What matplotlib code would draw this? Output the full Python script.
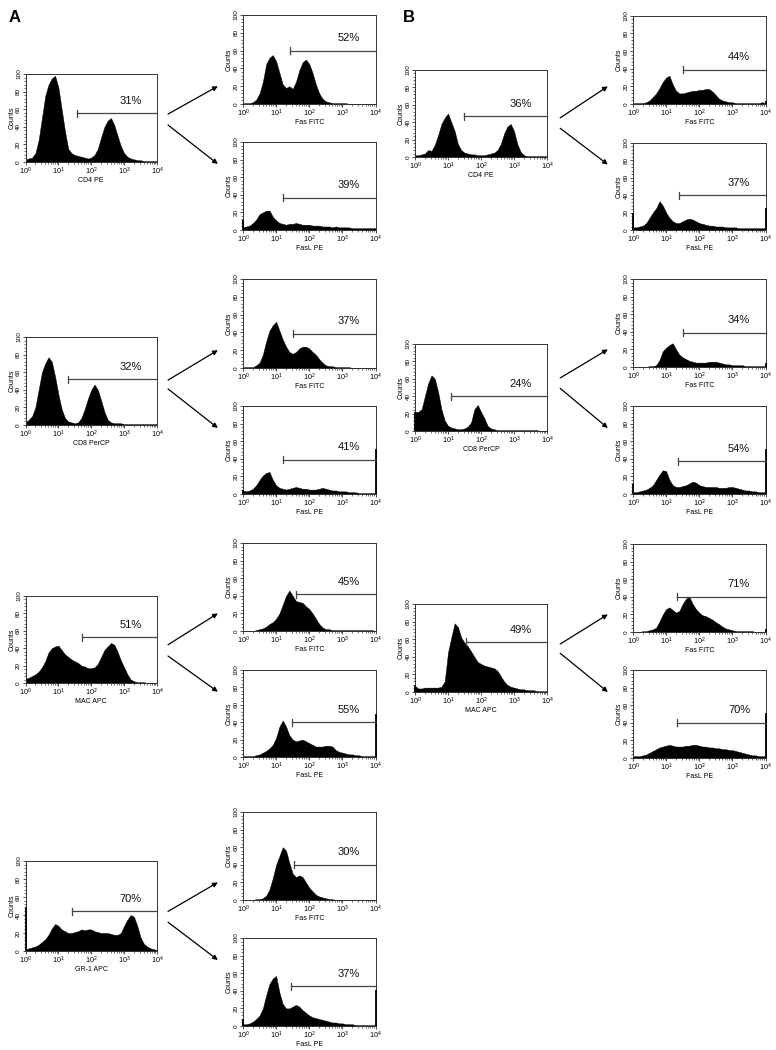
import numpy as np
import matplotlib
matplotlib.use('Agg')
import matplotlib.pyplot as plt
from matplotlib.ticker import FixedLocator, MultipleLocator, NullFormatter

plt.rcParams['font.family'] = ['Liberation Sans', 'DejaVu Sans']
plt.rcParams['mathtext.fontset'] = 'custom'
plt.rcParams['mathtext.rm'] = 'Liberation Sans'
plt.rcParams['mathtext.it'] = 'Liberation Sans:italic'

# channel positions (decades of fluorescence, 10^0 .. 10^4)
LOG_GRID = np.round(np.linspace(0, 4, 41), 2)

# ---------------- histogram counts ----------------
A_CD4 = [3, 4, 5, 10, 25, 50, 75, 88, 95, 98, 85, 60, 35, 15, 10, 8, 7, 6, 5, 4,
         5, 8, 15, 28, 40, 47, 50, 42, 30, 18, 10, 6, 4, 3, 2, 2, 1, 1, 1, 1, 1]
A_CD4_FAS = [1, 1, 1, 2, 5, 12, 25, 45, 52, 55, 48, 35, 22, 18, 20, 17, 25, 38, 47, 50,
             45, 35, 22, 12, 6, 3, 2, 1, 1, 1, 1, 1, 0, 0, 0, 0, 0, 0, 0, 0, 0]
A_CD4_FASL = [3, 4, 5, 8, 12, 18, 20, 22, 22, 15, 11, 8, 7, 6, 7, 7, 8, 7, 6, 6,
              6, 5, 5, 5, 4, 4, 4, 3, 4, 3, 3, 3, 3, 2, 2, 2, 2, 2, 2, 2, 2]
B_CD4 = [2, 2, 3, 4, 8, 7, 14, 25, 38, 45, 50, 40, 30, 15, 8, 5, 4, 3, 3, 2,
         2, 2, 3, 4, 5, 8, 15, 27, 35, 38, 30, 15, 6, 2, 1, 1, 1, 1, 1, 1, 1]
B_CD4_FAS = [1, 1, 1, 1, 2, 4, 8, 12, 18, 25, 30, 32, 22, 15, 12, 12, 13, 14, 15, 15,
             16, 16, 17, 17, 14, 10, 6, 4, 3, 2, 2, 1, 1, 1, 1, 1, 1, 1, 1, 2, 1]
B_CD4_FASL = [3, 3, 4, 5, 8, 14, 20, 25, 33, 28, 20, 14, 10, 8, 8, 10, 12, 13, 12, 10,
              8, 7, 6, 5, 5, 4, 4, 4, 3, 3, 3, 3, 2, 2, 2, 2, 2, 2, 2, 2, 2]
A_CD8 = [3, 6, 10, 20, 40, 60, 70, 77, 72, 55, 35, 18, 8, 4, 3, 2, 3, 8, 18, 30,
         40, 46, 40, 28, 15, 6, 3, 2, 2, 2, 1, 1, 1, 1, 1, 1, 1, 1, 1, 1, 1]
A_CD8_FAS = [1, 1, 1, 1, 3, 6, 15, 30, 42, 48, 52, 42, 32, 24, 18, 16, 18, 22, 24, 24,
             22, 18, 15, 10, 6, 3, 2, 2, 1, 1, 1, 1, 1, 0, 0, 0, 0, 0, 0, 0, 0]
A_CD8_FASL = [4, 3, 4, 6, 10, 16, 21, 24, 25, 16, 10, 7, 6, 5, 6, 7, 8, 7, 6, 6,
              5, 5, 5, 6, 7, 6, 5, 4, 4, 3, 3, 3, 2, 2, 2, 1, 1, 1, 1, 1, 1]
B_CD8 = [22, 22, 25, 40, 55, 64, 60, 45, 25, 12, 6, 4, 3, 2, 2, 3, 5, 10, 25, 30,
         22, 15, 6, 3, 2, 1, 1, 1, 1, 1, 1, 1, 1, 1, 1, 1, 1, 1, 0, 0, 0]
B_CD8_FAS = [0, 0, 0, 0, 0, 1, 1, 2, 8, 18, 22, 25, 27, 20, 14, 11, 9, 7, 6, 5,
             5, 5, 5, 6, 6, 6, 5, 4, 3, 3, 2, 2, 2, 2, 1, 1, 1, 1, 1, 1, 1]
B_CD8_FASL = [2, 2, 3, 4, 5, 7, 10, 16, 22, 27, 26, 16, 10, 8, 8, 9, 10, 12, 14, 13,
              10, 9, 8, 8, 8, 8, 7, 7, 7, 8, 8, 7, 6, 5, 4, 4, 3, 3, 2, 2, 2]
A_MAC = [5, 6, 8, 10, 13, 18, 25, 35, 40, 42, 43, 38, 33, 30, 27, 25, 23, 20, 19, 17,
         17, 18, 22, 30, 38, 42, 46, 44, 36, 26, 18, 10, 4, 2, 1, 1, 1, 0, 0, 0, 0]
A_MAC_FAS = [0, 0, 0, 0, 1, 2, 3, 5, 8, 10, 14, 20, 30, 40, 46, 40, 34, 33, 32, 28,
             25, 20, 14, 8, 4, 2, 2, 1, 1, 1, 1, 1, 1, 1, 1, 1, 1, 1, 1, 1, 0]
A_MAC_FASL = [1, 1, 1, 1, 2, 3, 5, 7, 10, 14, 22, 35, 42, 35, 25, 20, 18, 19, 20, 18,
              16, 14, 12, 12, 12, 13, 13, 12, 8, 6, 5, 4, 3, 3, 2, 2, 1, 1, 1, 1, 1]
B_MAC = [7, 4, 4, 5, 5, 5, 5, 5, 6, 12, 45, 62, 78, 74, 62, 56, 52, 46, 40, 34,
         32, 30, 29, 28, 27, 24, 18, 12, 8, 6, 5, 4, 3, 3, 2, 2, 2, 1, 1, 1, 1]
B_MAC_FAS = [0, 0, 0, 1, 1, 2, 3, 5, 12, 20, 26, 28, 25, 22, 24, 32, 38, 40, 32, 26,
             22, 19, 18, 16, 14, 11, 9, 6, 4, 3, 2, 1, 1, 1, 1, 1, 1, 0, 0, 0, 0]
B_MAC_FASL = [2, 2, 2, 3, 4, 6, 8, 10, 12, 13, 14, 15, 14, 13, 13, 13, 14, 14, 15, 15,
              14, 13, 13, 12, 12, 11, 11, 10, 10, 9, 9, 8, 7, 6, 5, 4, 3, 3, 2, 2, 2]
A_GR1 = [2, 3, 4, 5, 7, 10, 13, 18, 25, 30, 28, 24, 22, 20, 20, 21, 22, 24, 23, 24,
         24, 22, 21, 20, 20, 20, 19, 18, 18, 20, 28, 35, 40, 38, 28, 15, 8, 5, 3, 2, 1]
A_GR1_FAS = [0, 0, 0, 0, 1, 1, 2, 5, 12, 25, 40, 50, 60, 56, 42, 30, 26, 28, 26, 20,
             14, 10, 6, 4, 3, 2, 1, 1, 0, 0, 0, 0, 0, 0, 0, 0, 0, 0, 0, 0, 0]
A_GR1_FASL = [2, 2, 3, 5, 8, 12, 20, 35, 48, 54, 57, 38, 25, 20, 20, 22, 24, 22, 18, 15,
              12, 10, 9, 8, 7, 6, 5, 4, 4, 3, 3, 2, 2, 2, 1, 1, 1, 1, 1, 1, 1]

# first / last channel pile-up counts [at 10^0, at 10^4]
A_CD4_EDGES = [0, 0];      A_CD4_FAS_EDGES = [0, 0];   A_CD4_FASL_EDGES = [11, 0]
B_CD4_EDGES = [0, 0];      B_CD4_FAS_EDGES = [0, 3];   B_CD4_FASL_EDGES = [19, 25]
A_CD8_EDGES = [0, 0];      A_CD8_FAS_EDGES = [0, 0];   A_CD8_FASL_EDGES = [5, 51]
B_CD8_EDGES = [22, 0];     B_CD8_FAS_EDGES = [0, 5];   B_CD8_FASL_EDGES = [11, 51]
A_MAC_EDGES = [0, 0];      A_MAC_FAS_EDGES = [0, 0];   A_MAC_FASL_EDGES = [0, 50]
B_MAC_EDGES = [8, 0];      B_MAC_FAS_EDGES = [0, 3];   B_MAC_FASL_EDGES = [0, 51]
A_GR1_EDGES = [49, 0];     A_GR1_FAS_EDGES = [0, 0];   A_GR1_FASL_EDGES = [8, 41]

# gates: [start (decades), level (counts)] and percent labels
A_CD4_GATE = [1.56, 55.5];  A_CD4_FAS_GATE = [1.42, 60];   A_CD4_FASL_GATE = [1.22, 36.6]
B_CD4_GATE = [1.47, 46.6];  B_CD4_FAS_GATE = [1.51, 39];   B_CD4_FASL_GATE = [1.38, 40]
A_CD8_GATE = [1.30, 52];    A_CD8_FAS_GATE = [1.50, 38.6]; A_CD8_FASL_GATE = [1.22, 39]
B_CD8_GATE = [1.09, 40];    B_CD8_FAS_GATE = [1.52, 39];   B_CD8_FASL_GATE = [1.35, 37]
A_MAC_GATE = [1.71, 52.5];  A_MAC_FAS_GATE = [1.60, 41.5]; A_MAC_FASL_GATE = [1.49, 40]
B_MAC_GATE = [1.56, 57];    B_MAC_FAS_GATE = [1.32, 40];   B_MAC_FASL_GATE = [1.32, 40]
A_GR1_GATE = [1.40, 44];    A_GR1_FAS_GATE = [1.55, 40];   A_GR1_FASL_GATE = [1.45, 45]

A_CD4_PCT, A_CD4_FAS_PCT, A_CD4_FASL_PCT = '31%', '52%', '39%'
B_CD4_PCT, B_CD4_FAS_PCT, B_CD4_FASL_PCT = '36%', '44%', '37%'
A_CD8_PCT, A_CD8_FAS_PCT, A_CD8_FASL_PCT = '32%', '37%', '41%'
B_CD8_PCT, B_CD8_FAS_PCT, B_CD8_FASL_PCT = '24%', '34%', '54%'
A_MAC_PCT, A_MAC_FAS_PCT, A_MAC_FASL_PCT = '51%', '45%', '55%'
B_MAC_PCT, B_MAC_FAS_PCT, B_MAC_FASL_PCT = '49%', '71%', '70%'
A_GR1_PCT, A_GR1_FAS_PCT, A_GR1_FASL_PCT = '70%', '30%', '37%'

X_TICK_LABELS = [r'$10^{0}$', r'$10^{1}$', r'$10^{2}$', r'$10^{3}$', r'$10^{4}$']
Y_TICKS = [0, 20, 40, 60, 80, 100]

# ---------------- drawing ----------------
W, H = 776, 1050
fig = plt.figure(figsize=(W / 100, H / 100), dpi=100)
fig.patch.set_facecolor('white')


def px_axes(left, top, right, bottom):
    return fig.add_axes([left / W, 1 - bottom / H, (right - left) / W, (bottom - top) / H])


def histo(rect, counts, edges, gate, pct, xlabel):
    ax = px_axes(*rect)
    x = 10 ** LOG_GRID
    ax.fill_between(x, counts, 0, color='black', lw=0.3, edgecolor='black')
    ax.set_xscale('log')
    ax.set_xlim(1, 1e4)
    ax.set_ylim(0, 100)
    if edges[0] > 0:
        ax.vlines(1.0, 0, edges[0], color='black', lw=1.3, clip_on=False, zorder=3)
    if edges[1] > 0:
        ax.vlines(1e4, 0, edges[1], color='black', lw=1.3, clip_on=False, zorder=3)
    # gate marker
    g0 = 10 ** gate[0]
    ax.plot([g0, 1e4], [gate[1], gate[1]], color='#444444', lw=0.9, zorder=4, clip_on=False)
    ax.plot([g0, g0], [gate[1] - 4, gate[1] + 4], color='#444444', lw=0.9, zorder=4)
    ax.text(10 ** 3.2, gate[1] + 14, pct, fontsize=8, ha='center', va='center', color='#111111')
    # axes styling
    for s in ax.spines.values():
        s.set_color('#333333')
        s.set_linewidth(0.7)
    ax.xaxis.set_major_locator(FixedLocator([1, 10, 100, 1000, 10000]))
    ax.set_xticklabels(X_TICK_LABELS)
    ax.xaxis.set_minor_locator(FixedLocator(
        [m * 10 ** d for d in range(4) for m in range(2, 10)]))
    ax.xaxis.set_minor_formatter(NullFormatter())
    ax.yaxis.set_major_locator(FixedLocator(Y_TICKS))
    ax.set_yticklabels([str(v) for v in Y_TICKS], rotation=90, va='center')
    ax.yaxis.set_minor_locator(MultipleLocator(4))
    ax.tick_params(axis='both', which='major', length=2.2, width=0.6, labelsize=4.6,
                   pad=1, color='#333333')
    ax.tick_params(axis='both', which='minor', length=1.2, width=0.5, color='#333333')
    ax.tick_params(axis='x', labelsize=5.2, pad=0.5)
    ax.set_xlabel(xlabel, fontsize=5, labelpad=0)
    ax.set_ylabel('Counts', fontsize=5, labelpad=0.5)
    return ax


def arrows(prim, upper, lower, start_x, start_up, start_low):
    for sec, sy, ey in ((upper, start_up, 0.2), (lower, start_low, 0.75)):
        sec.annotate('', xy=(-0.19, ey), xycoords=sec.transAxes,
                     xytext=(start_x, sy), textcoords=prim.transAxes,
                     arrowprops=dict(arrowstyle='-|>', lw=0.9, color='black',
                                     mutation_scale=7, shrinkA=0, shrinkB=0),
                     annotation_clip=False)


A_PL, A_PR, A_SL, A_SR = 25.5, 157, 243, 375.5
B_PL, B_PR, B_SL, B_SR = 415, 547, 633, 765.5

# column A
p = histo((A_PL, 74, A_PR, 162), A_CD4, A_CD4_EDGES, A_CD4_GATE, A_CD4_PCT, 'CD4 PE')
u = histo((A_SL, 15, A_SR, 104), A_CD4_FAS, A_CD4_FAS_EDGES, A_CD4_FAS_GATE, A_CD4_FAS_PCT, 'Fas FITC')
l = histo((A_SL, 142, A_SR, 230), A_CD4_FASL, A_CD4_FASL_EDGES, A_CD4_FASL_GATE, A_CD4_FASL_PCT, 'FasL PE')
arrows(p, u, l, 1.084, 0.545, 0.42)

p = histo((A_PL, 337, A_PR, 425), A_CD8, A_CD8_EDGES, A_CD8_GATE, A_CD8_PCT, 'CD8 PerCP')
u = histo((A_SL, 279, A_SR, 368), A_CD8_FAS, A_CD8_FAS_EDGES, A_CD8_FAS_GATE, A_CD8_FAS_PCT, 'Fas FITC')
l = histo((A_SL, 406, A_SR, 494), A_CD8_FASL, A_CD8_FASL_EDGES, A_CD8_FASL_GATE, A_CD8_FASL_PCT, 'FasL PE')
arrows(p, u, l, 1.084, 0.51, 0.41)

p = histo((A_PL, 596, A_PR, 683), A_MAC, A_MAC_EDGES, A_MAC_GATE, A_MAC_PCT, 'MAC APC')
u = histo((A_SL, 543, A_SR, 631), A_MAC_FAS, A_MAC_FAS_EDGES, A_MAC_FAS_GATE, A_MAC_FAS_PCT, 'Fas FITC')
l = histo((A_SL, 670, A_SR, 757), A_MAC_FASL, A_MAC_FASL_EDGES, A_MAC_FASL_GATE, A_MAC_FASL_PCT, 'FasL PE')
arrows(p, u, l, 1.084, 0.44, 0.31)

p = histo((A_PL, 861, A_PR, 951), A_GR1, A_GR1_EDGES, A_GR1_GATE, A_GR1_PCT, 'GR-1 APC')
u = histo((A_SL, 812, A_SR, 900), A_GR1_FAS, A_GR1_FAS_EDGES, A_GR1_FAS_GATE, A_GR1_FAS_PCT, 'Fas FITC')
l = histo((A_SL, 938, A_SR, 1026), A_GR1_FASL, A_GR1_FASL_EDGES, A_GR1_FASL_GATE, A_GR1_FASL_PCT, 'FasL PE')
arrows(p, u, l, 1.084, 0.44, 0.32)

# column B
p = histo((B_PL, 70, B_PR, 157), B_CD4, B_CD4_EDGES, B_CD4_GATE, B_CD4_PCT, 'CD4 PE')
u = histo((B_SL, 15.7, B_SR, 104), B_CD4_FAS, B_CD4_FAS_EDGES, B_CD4_FAS_GATE, B_CD4_FAS_PCT, 'Fas FITC')
l = histo((B_SL, 142.7, B_SR, 230), B_CD4_FASL, B_CD4_FASL_EDGES, B_CD4_FASL_GATE, B_CD4_FASL_PCT, 'FasL PE')
arrows(p, u, l, 1.1, 0.45, 0.33)

p = histo((B_PL, 344, B_PR, 431), B_CD8, B_CD8_EDGES, B_CD8_GATE, B_CD8_PCT, 'CD8 PerCP')
u = histo((B_SL, 279, B_SR, 367), B_CD8_FAS, B_CD8_FAS_EDGES, B_CD8_FAS_GATE, B_CD8_FAS_PCT, 'Fas FITC')
l = histo((B_SL, 406, B_SR, 494), B_CD8_FASL, B_CD8_FASL_EDGES, B_CD8_FASL_GATE, B_CD8_FASL_PCT, 'FasL PE')
arrows(p, u, l, 1.1, 0.61, 0.49)

p = histo((B_PL, 604, B_PR, 692), B_MAC, B_MAC_EDGES, B_MAC_GATE, B_MAC_PCT, 'MAC APC')
u = histo((B_SL, 544, B_SR, 632), B_MAC_FAS, B_MAC_FAS_EDGES, B_MAC_FAS_GATE, B_MAC_FAS_PCT, 'Fas FITC')
l = histo((B_SL, 670, B_SR, 758), B_MAC_FASL, B_MAC_FASL_EDGES, B_MAC_FASL_GATE, B_MAC_FASL_PCT, 'FasL PE')
arrows(p, u, l, 1.1, 0.545, 0.44)

fig.text(9 / W, 1 - 18 / H, 'A', fontsize=12, fontweight='bold', va='center', ha='left')
fig.text(403 / W, 1 - 18 / H, 'B', fontsize=12, fontweight='bold', va='center', ha='left')

fig.savefig('out.png', dpi=100, facecolor='white')
